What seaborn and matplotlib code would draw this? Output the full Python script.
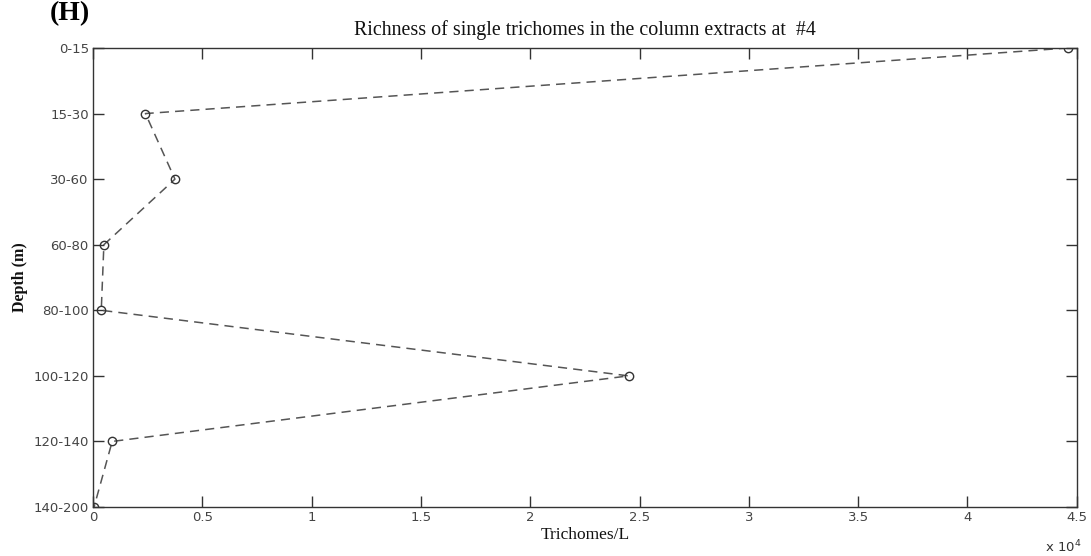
import matplotlib
matplotlib.use("Agg")
import matplotlib.pyplot as plt
import seaborn as sns
import pandas as pd

depths = ["0-15", "15-30", "30-60", "60-80", "80-100", "100-120", "120-140", "140-200"]
trichomes = [44600, 2400, 3750, 500, 380, 24500, 880, 50]
xticks = [0, 0.5, 1, 1.5, 2, 2.5, 3, 3.5, 4, 4.5]
xticklabels = ["0", "0.5", "1", "1.5", "2", "2.5", "3", "3.5", "4", "4.5"]

sns.set_theme(style="white")
plt.rcParams["font.family"] = ["DejaVu Sans"]

df = pd.DataFrame({"Depth": depths, "Trichomes": [v / 1e4 for v in trichomes]})

fig = plt.figure(figsize=(10.91, 5.56), dpi=100)
ax = fig.add_axes([0.0852, 0.0881, 0.9018, 0.8256])

sns.pointplot(data=df, x="Trichomes", y="Depth", order=depths, orient="h",
              color="#555555", linestyles="--", markers="o", errorbar=None,
              markersize=6, markerfacecolor="none", markeredgecolor="#333333",
              markeredgewidth=1.0, linewidth=1.1, dashes=(6, 4), ax=ax)

ax.set_xlim(0, 4.5)
ax.set_ylim(len(depths) - 1, 0)
ax.set_xticks(xticks)
ax.set_xticklabels(xticklabels)
ax.set_yticks(range(len(depths)))
ax.set_yticklabels(depths)

for s in ax.spines.values():
    s.set_visible(True)
    s.set_color("#333333")
    s.set_linewidth(1.0)
ax.tick_params(axis="both", direction="in", length=8, width=1.0, color="#333333",
               labelsize=9.5, labelcolor="#444444", top=True, right=True,
               bottom=True, left=True, pad=3)
ax.grid(False)

ax.set_xlabel("Trichomes/L", family="Liberation Serif", fontsize=12.5, labelpad=2, color="#111111")
ax.set_ylabel("Depth (m)", family="Liberation Serif", fontsize=11.5, fontweight="bold", labelpad=4, color="#111111")
ax.set_title("Richness of single trichomes in the column extracts at  #4",
             family="Liberation Serif", fontsize=14.4, color="#111111", pad=9)

fig.text(0.046, 0.998, "(H)", family="Liberation Serif", fontsize=20, fontweight="bold",
         va="top", ha="left", color="#000000")
fig.text(0.958, 0.002, "x 10$^4$", family="DejaVu Sans", fontsize=9.5, color="#333333",
         ha="left", va="bottom")

fig.savefig("out.png", dpi=100)
